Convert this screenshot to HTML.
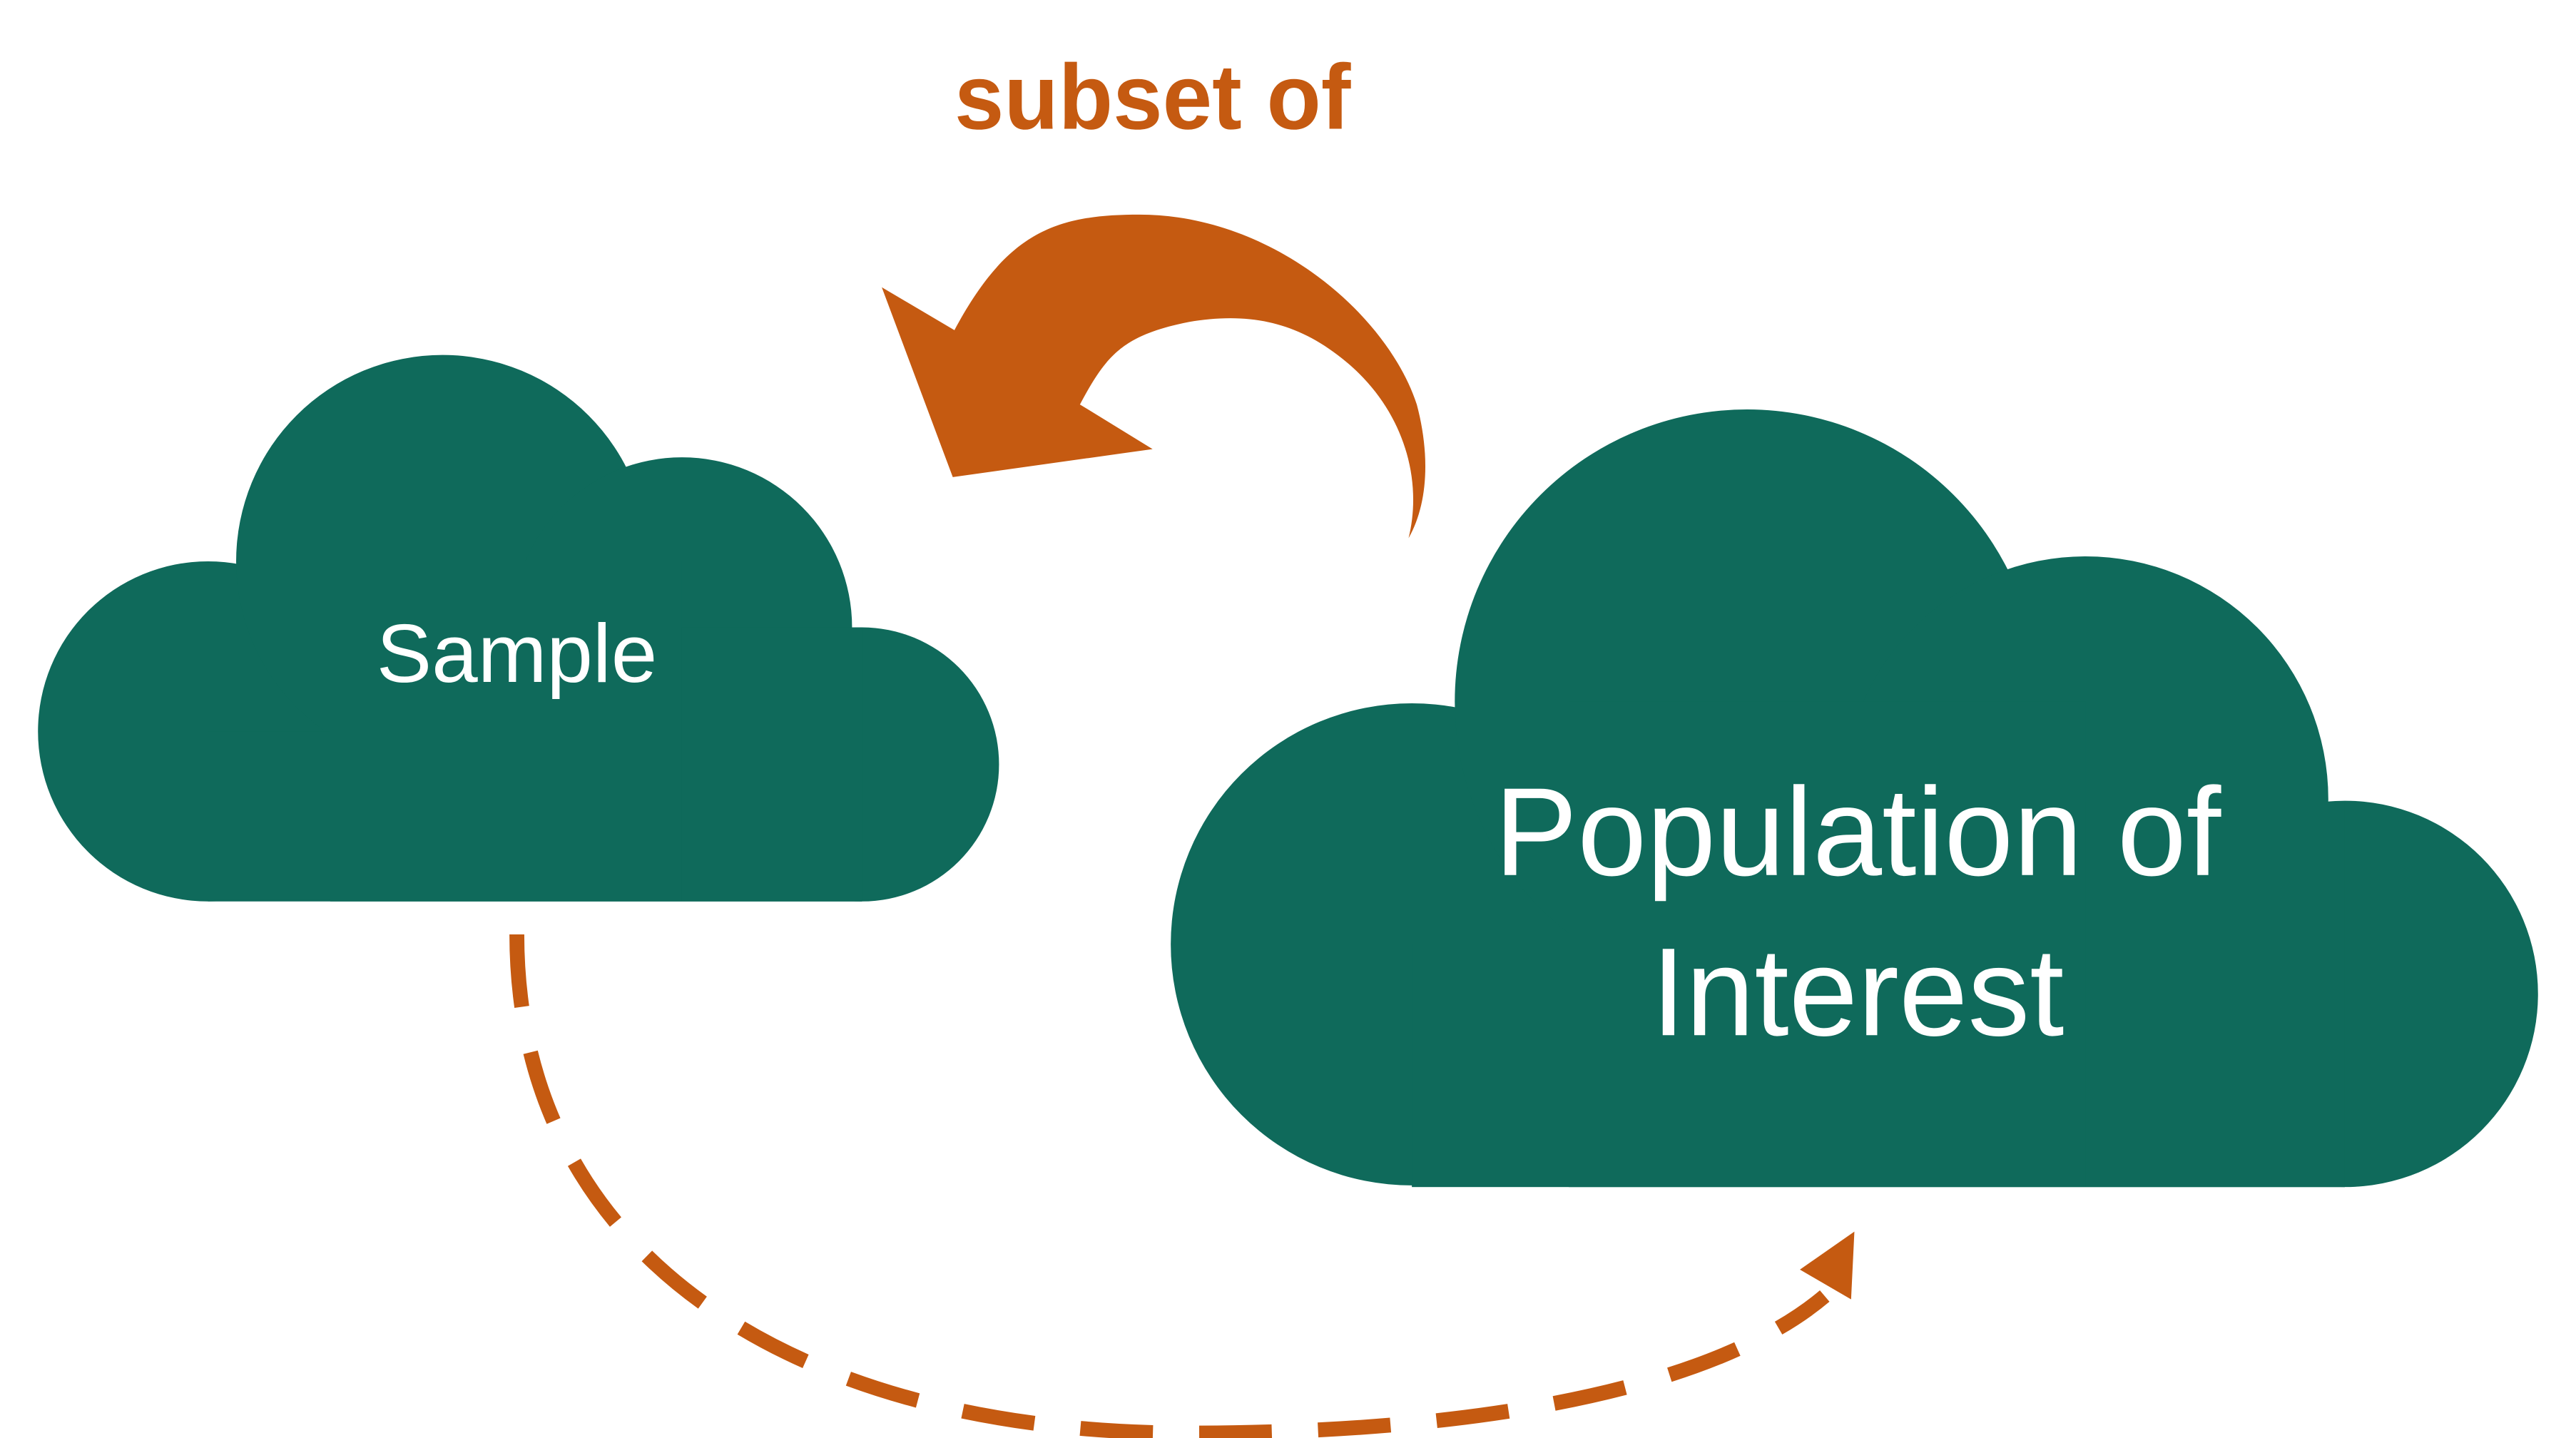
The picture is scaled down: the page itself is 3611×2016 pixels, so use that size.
<!DOCTYPE html>
<html><head><style>html,body{margin:0;padding:0;background:#fff;}svg{display:block}</style></head>
<body>
<svg width="3611" height="2016" viewBox="0 0 1560 871" preserveAspectRatio="none" xmlns="http://www.w3.org/2000/svg">
<g fill="#0F6A5B">
<circle cx="126" cy="443" r="103"/>
<circle cx="268" cy="340" r="125"/>
<circle cx="413" cy="380" r="103"/>
<circle cx="522" cy="463" r="83"/>
<rect x="126" y="443" width="396" height="103"/>
<rect x="200" y="340" width="213" height="206"/>
<rect x="413" y="380" width="109" height="166"/>
<circle cx="855" cy="572" r="146"/>
<circle cx="1058" cy="425" r="177"/>
<circle cx="1263" cy="484" r="147"/>
<circle cx="1420" cy="602" r="117"/>
<rect x="855" y="572" width="565" height="147"/>
<rect x="950" y="425" width="313" height="294"/>
<rect x="1263" y="486" width="157" height="233"/>
</g>
<g fill="#fff" font-family="Liberation Sans, sans-serif" text-anchor="middle">
<text x="313" y="413" font-size="50" textLength="170" lengthAdjust="spacingAndGlyphs">Sample</text>
<text x="1125" y="530" font-size="76" textLength="440" lengthAdjust="spacingAndGlyphs">Population of</text>
<text x="1125" y="627" font-size="76" textLength="250" lengthAdjust="spacingAndGlyphs">Interest</text>
</g>
<text x="698" y="78" font-family="Liberation Sans, sans-serif" font-weight="bold" font-size="56" fill="#C55A11" text-anchor="middle" textLength="240" lengthAdjust="spacingAndGlyphs">subset of</text>
<path fill="#C55A11" d="M578,200 C610,140 640,130 690,130 C770,130 840,190 858,245 C866,275 865,305 853,326 C862,290 850,245 810,215 C780,192 750,190 720,195 C680,203 670,215 654,245 L698,272 L577,289 L534,174 Z"/>
<path fill="none" stroke="#C55A11" stroke-width="9" stroke-dasharray="44 28" d="M313,566 C313,760 480,868 720,868 C900,868 1040,840 1105,785"/>
<polygon fill="#C55A11" points="1090,769 1123,746 1121,787"/>
</svg>
</body></html>
